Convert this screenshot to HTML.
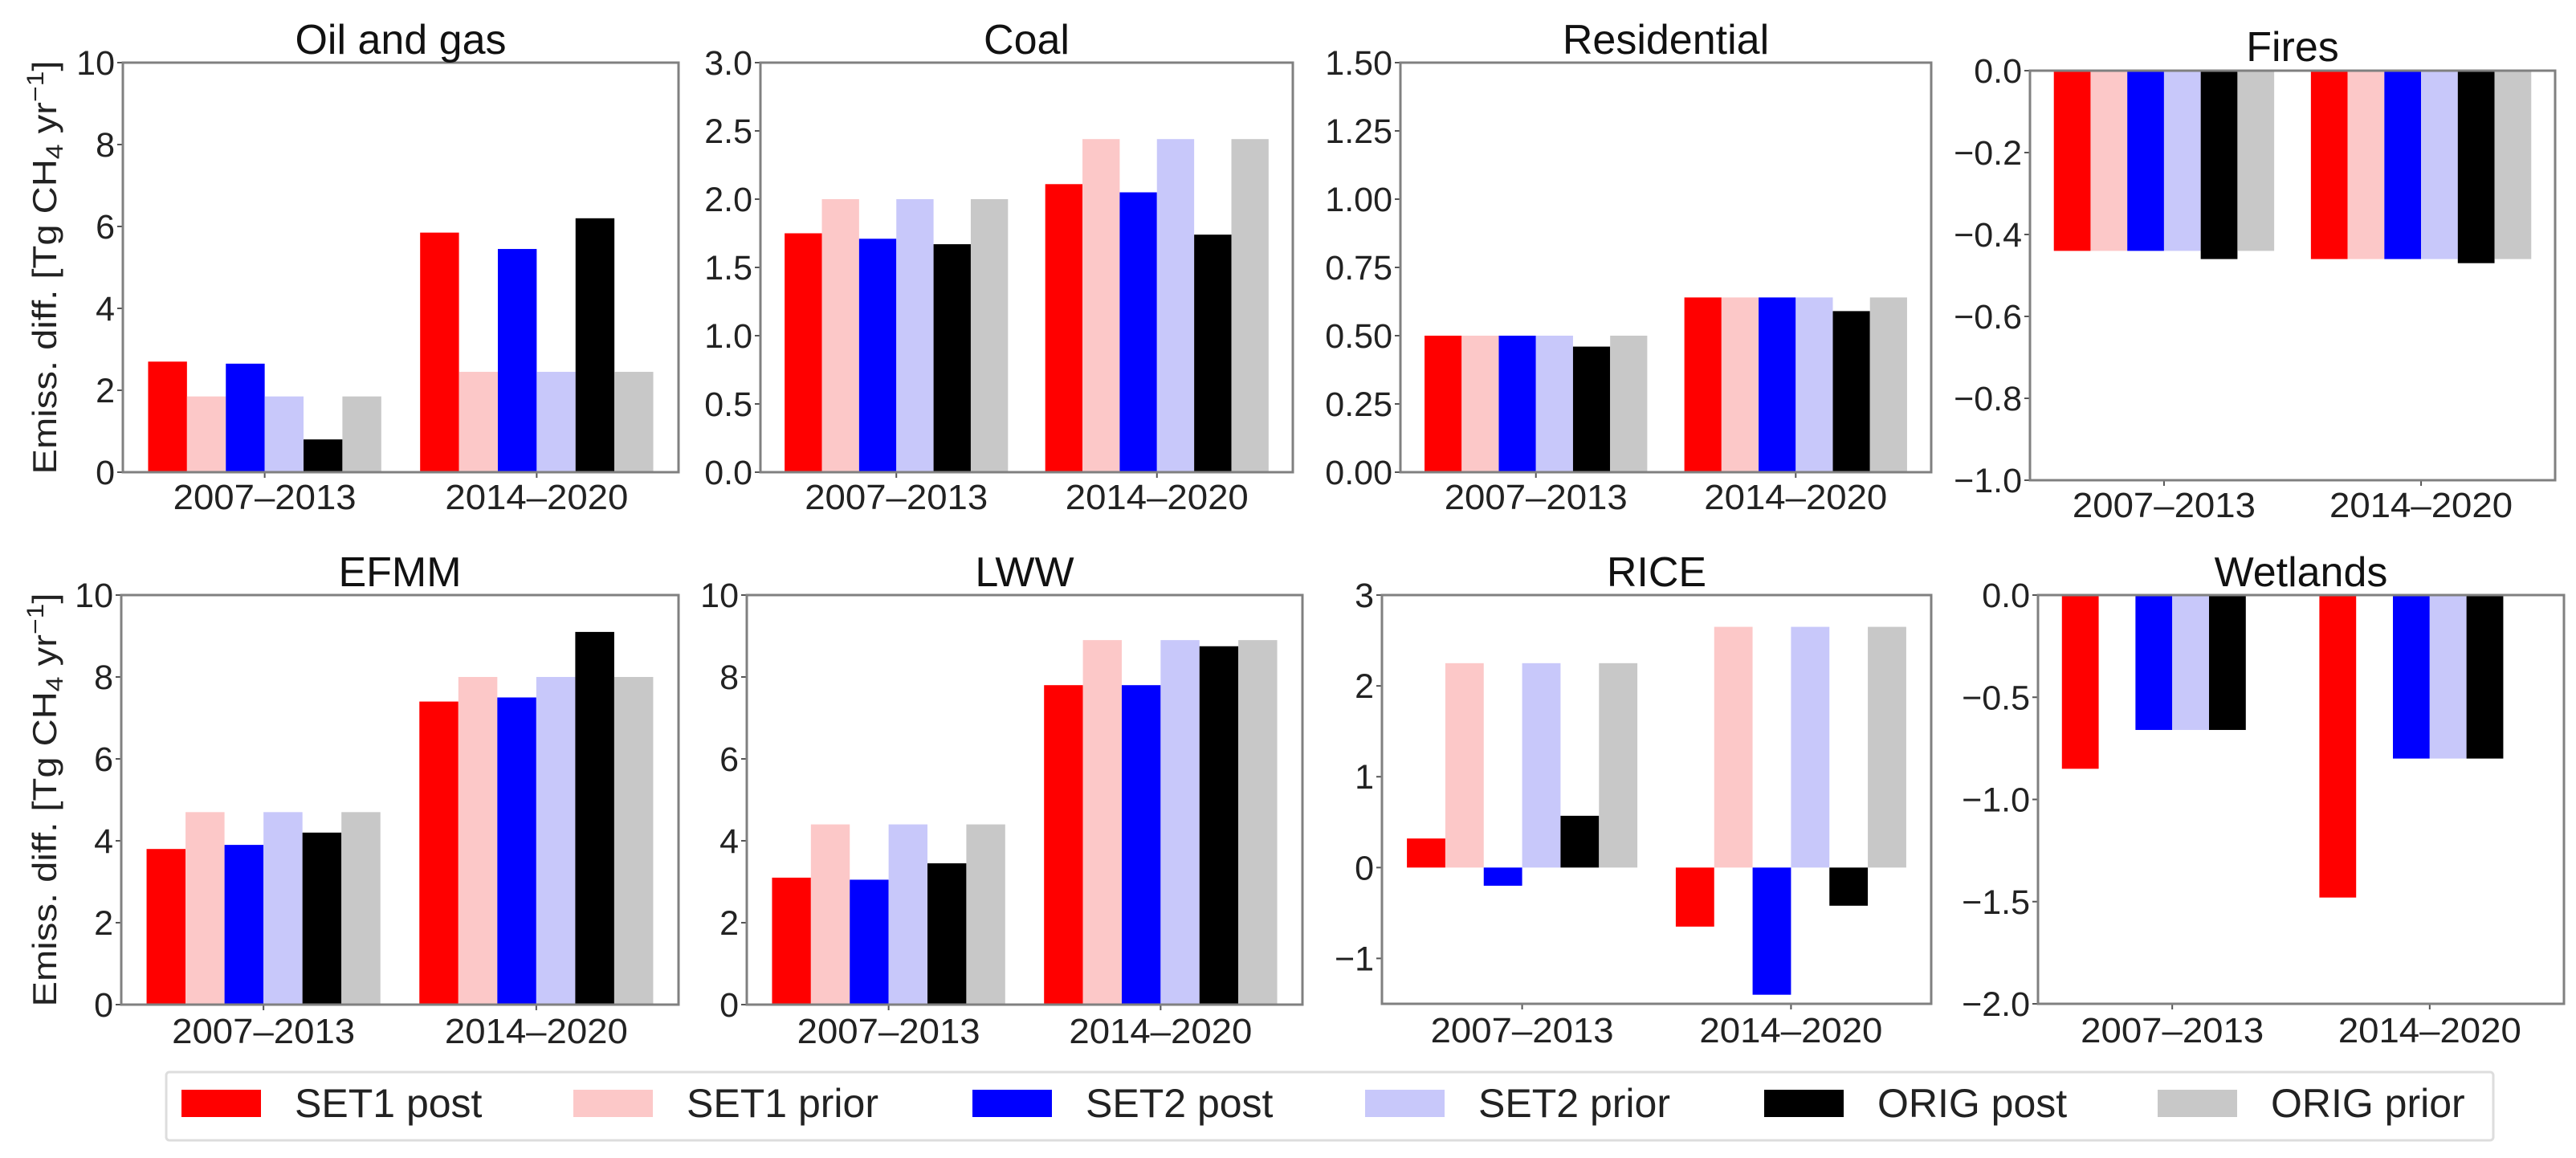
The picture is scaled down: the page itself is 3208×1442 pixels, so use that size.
<!DOCTYPE html>
<html><head><meta charset="utf-8"><style>
html,body{margin:0;padding:0;background:#fff}
svg{display:block;font-family:"Liberation Sans",sans-serif}
</style></head><body>
<svg id="fig" width="3208" height="1442" viewBox="0 0 3208 1442" xmlns="http://www.w3.org/2000/svg"></svg>
<script>
const categories = ["2007–2013", "2014–2020"];
const seriesNames = ["SET1 post", "SET1 prior", "SET2 post", "SET2 prior", "ORIG post", "ORIG prior"];
const seriesColors = ["#ff0000", "#fcc8c8", "#0000ff", "#c8c8fa", "#000000", "#c8c8c8"];
const panelTitles = ["Oil and gas", "Coal", "Residential", "Fires", "EFMM", "LWW", "RICE", "Wetlands"];
const oilGas = [[2.7,1.85,2.65,1.85,0.8,1.85],[5.85,2.45,5.45,2.45,6.2,2.45]];
const coal = [[1.75,2.0,1.71,2.0,1.67,2.0],[2.11,2.44,2.05,2.44,1.74,2.44]];
const residential = [[0.50,0.50,0.50,0.50,0.46,0.50],[0.64,0.64,0.64,0.64,0.59,0.64]];
const fires = [[-0.44,-0.44,-0.44,-0.44,-0.46,-0.44],[-0.46,-0.46,-0.46,-0.46,-0.47,-0.46]];
const efmm = [[3.8,4.7,3.9,4.7,4.2,4.7],[7.4,8.0,7.5,8.0,9.1,8.0]];
const lww = [[3.1,4.4,3.05,4.4,3.45,4.4],[7.8,8.9,7.8,8.9,8.75,8.9]];
const rice = [[0.32,2.25,-0.2,2.25,0.57,2.25],[-0.65,2.65,-1.4,2.65,-0.42,2.65]];
const wetlands = [[-0.85,0,-0.66,-0.66,-0.66,0],[-1.48,0,-0.8,-0.8,-0.8,0]];
const ticksA = ["0","2","4","6","8","10"];
const ticksCoal = ["0.0","0.5","1.0","1.5","2.0","2.5","3.0"];
const ticksRes = ["0.00","0.25","0.50","0.75","1.00","1.25","1.50"];
const ticksFires = ["−1.0","−0.8","−0.6","−0.4","−0.2","0.0"];
const ticksRice = ["−1","0","1","2","3"];
const ticksWet = ["−2.0","−1.5","−1.0","−0.5","0.0"];

const panelData = [oilGas, coal, residential, fires, efmm, lww, rice, wetlands];
const panelTicks = [ticksA, ticksCoal, ticksRes, ticksFires, ticksA, ticksA, ticksRice, ticksWet];
const panelYlim = [[0,10],[0,3],[0,1.5],[-1,0],[0,10],[0,10],[-1.5,3],[-2,0]];
const panelBox = [[153,78,845,588],[947,78,1610,588],[1744,78,2405,588],[2528,88,3182,598],
                  [151,741,845,1251],[930,741,1622,1251],[1721,741,2405,1250],[2538,741,3193,1250]];

const NS = "http://www.w3.org/2000/svg";
const svg = document.getElementById("fig");
function mk(tag, attrs, parent, txt) {
  const e = document.createElementNS(NS, tag);
  for (const k in attrs) e.setAttribute(k, attrs[k]);
  if (txt !== undefined) e.textContent = txt;
  (parent || svg).appendChild(e);
  return e;
}
const slug = s => s.toLowerCase().replace(/[^a-z0-9]+/g, "-").replace(/^-|-$/g, "");

panelData.forEach((data, p) => {
  const [x0, y0, x1, y1] = panelBox[p];
  const [ymin, ymax] = panelYlim[p];
  const g = mk("g", {});
  
  
  const n = seriesNames.length, w = 1 / (n + 1);
  const dmin = -(n / 2) * w, dmax = categories.length - 1 + (n / 2) * w;
  const span = dmax - dmin, xlo = dmin - 0.05 * span, xhi = dmax + 0.05 * span;
  const xs = v => x0 + (v - xlo) / (xhi - xlo) * (x1 - x0);
  const ys = v => y1 - (v - ymin) / (ymax - ymin) * (y1 - y0);
  // bars
  categories.forEach((c, ci) => {
    data[ci].forEach((v, si) => {
      const xc = ci + (si - (n - 1) / 2) * w;
      const a = ys(0), b = ys(v);
      const r = mk("rect", {x: xs(xc - w / 2), y: Math.min(a, b), width: xs(xc + w / 2) - xs(xc - w / 2), height: Math.abs(a - b), fill: seriesColors[si]}, g);
      
      
    });
    const t = mk("text", {x: xs(ci), y: y1 + (p < 4 ? 46 : 48), "font-size": 44, "text-anchor": "middle", fill: "#222", textLength: 228, lengthAdjust: "spacingAndGlyphs"}, g, c);
    
    
    mk("line", {x1: xs(ci), x2: xs(ci), y1: y1, y2: y1 + 7, stroke: "#555", "stroke-width": 2}, g);
  });
  // y ticks
  const ticks = panelTicks[p];
  ticks.forEach(lbl => {
    const v = parseFloat(lbl.replace("−", "-"));
    const yy = ys(v);
    mk("line", {x1: x0 - 7, x2: x0, y1: yy, y2: yy, stroke: "#555", "stroke-width": 2}, g);
    const t = mk("text", {x: x0 - 10, y: yy + 15, "font-size": 43, "text-anchor": "end", fill: "#222"}, g, lbl);
    
    
  });
  const frame = mk("rect", {x: x0, y: y0, width: x1 - x0, height: y1 - y0, fill: "none", stroke: "#808080", "stroke-width": 3}, g);
  
  
  const ty = p < 4 ? (p === 3 ? 76 : 67) : 730;
  const tt = mk("text", {x: (x0 + x1) / 2, y: ty, "font-size": 52, "text-anchor": "middle", fill: "#111"}, g, panelTitles[p]);
  
  
});

// y-axis titles
[[333], [996]].forEach(([cy]) => {
  const t = mk("text", {x: 0, y: 0, "font-size": 42, "text-anchor": "middle", fill: "#222", transform: "translate(70," + cy + ") rotate(-90)", textLength: 515, lengthAdjust: "spacingAndGlyphs"});
  
  
  t.appendChild(document.createTextNode("Emiss. diff. [Tg CH"));
  const s1 = mk("tspan", {"font-size": 30, dy: 8}, t, "4");
  mk("tspan", {dy: -8}, t, " yr");
  mk("tspan", {"font-size": 30, dy: -16}, t, "−1");
  mk("tspan", {dy: 16}, t, "]");
});

// legend
const lg = mk("g", {});


mk("rect", {x: 207, y: 1335, width: 2898, height: 85, fill: "#fff", stroke: "#ddd", "stroke-width": 3, rx: 4}, lg);
const legendX = [226, 714, 1211, 1700, 2197, 2687];
seriesNames.forEach((s, i) => {
  const e = mk("g", {}, lg);
  
  
  mk("rect", {x: legendX[i], y: 1357, width: 99, height: 34, fill: seriesColors[i]}, e);
  mk("text", {x: legendX[i] + 141, y: 1391, "font-size": 50, fill: "#222"}, e, s);
});
</script>
</body></html>
